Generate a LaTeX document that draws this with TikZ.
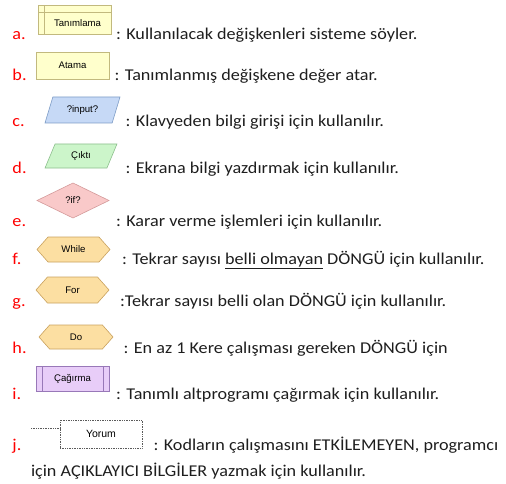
\documentclass[tikz,border=0pt]{standalone}
\usepackage{fontspec}
\setmainfont{Carlito}[FakeStretch=1.1]
\newfontfamily\etiketfont{Liberation Sans}
\usepackage{tikz}
\usetikzlibrary{shapes,shapes.geometric,shapes.symbols}

\definecolor{yazi}{HTML}{1E1E1E}
\definecolor{harfrengi}{HTML}{FF0000}
\definecolor{tanimdolgu}{HTML}{FFFFCC}
\definecolor{tanimcizgi}{HTML}{C2B97E}
\definecolor{girisdolgu}{HTML}{C6D9F6}
\definecolor{giriscizgi}{HTML}{7D9CC6}
\definecolor{cikisdolgu}{HTML}{CCF5CA}
\definecolor{cikiscizgi}{HTML}{8CBF8C}
\definecolor{kararolgu}{HTML}{F9C9C9}
\definecolor{kararcizgi}{HTML}{D49A9A}
\definecolor{donguolgu}{HTML}{FCDFA2}
\definecolor{dongucizgi}{HTML}{C9A15E}
\definecolor{cagirdolgu}{HTML}{E8CDF8}
\definecolor{cagircizgi}{HTML}{9878B8}
\definecolor{yorumcizgi}{HTML}{5A5A5A}

\newcommand{\govde}{\fontsize{16.5}{19}\selectfont}
\newcommand{\kucuk}{\etiketfont\fontsize{9.6}{11}\selectfont}

\begin{document}
\begin{tikzpicture}
	[
		x=1pt, y=-1pt,
		every node/.style = {inner sep=0pt, outer sep=0pt},
		harf/.style = {anchor=base west, text=harfrengi, font=\govde},
		satir/.style = {anchor=base west, text=yazi, font=\govde},
		kutu/.style = {draw, line width=0.6pt, font=\kucuk, text=black},
		paralel/.style = {kutu, trapezium, trapezium stretches=true},
		altigen/.style = {kutu, signal, signal to=west and east, signal pointer angle=97,
			draw=dongucizgi, fill=donguolgu},
		noktali/.style = {draw=yorumcizgi, line width=0.6pt, dash pattern=on 0.7pt off 1pt},
	]

  \useasboundingbox (0,0) rectangle (506,484);

  \node[kutu, draw=tanimcizgi, fill=tanimdolgu, minimum width=73, minimum height=29] (tanim) at (74.5,19.5) {};
  \draw[tanimcizgi, line width=0.6pt] ([xshift=6pt]tanim.north west) -- ([xshift=6pt]tanim.south west);
  \draw[tanimcizgi, line width=0.6pt] ([yshift=-7pt]tanim.north west) -- ([yshift=-7pt]tanim.north east);
  \node[font=\kucuk] (tanimyazi) at (77.5,23) {Tanımlama};

  \node[kutu, draw=tanimcizgi, fill=tanimdolgu, minimum width=73, minimum height=27] (atama) at (72.5,65.5) {Atama};

  \node[paralel, draw=giriscizgi, fill=girisdolgu, trapezium left angle=65, trapezium right angle=115,
  	minimum width=75, minimum height=26] (giris) at (82.5,110) {?input?};

  \node[paralel, draw=cikiscizgi, fill=cikisdolgu, trapezium left angle=67, trapezium right angle=113,
  	minimum width=72, minimum height=24] (cikis) at (81,156) {Çıktı};

  \node[kutu, diamond, draw=kararcizgi, fill=kararolgu, minimum width=72, minimum height=35] (karar) at (73,200.5) {?if?};

  \node[altigen, minimum width=73, minimum height=25] (while) at (73.5,249.5) {While};
  \node[altigen, minimum width=73, minimum height=26] (for) at (72.5,290) {For};
  \node[altigen, minimum width=74, minimum height=24] (do) at (76,337) {Do};

  \node[kutu, draw=cagircizgi, fill=cagirdolgu, minimum width=73, minimum height=25] (cagir) at (72.5,378.5) {Çağırma};
  \draw[cagircizgi, line width=0.6pt] ([xshift=6pt]cagir.north west) -- ([xshift=6pt]cagir.south west);
  \draw[cagircizgi, line width=0.6pt] ([xshift=-6pt]cagir.north east) -- ([xshift=-6pt]cagir.south east);

  \node[kutu, noktali, fill=white, minimum width=82, minimum height=28, font=\etiketfont\fontsize{10.5}{12}\selectfont] (yorum) at (101,434) {Yorum};
  \coordinate (yorumbas) at (31,428);
  \draw[noktali] (yorumbas) -- (yorum.west |- yorumbas);

  \node[harf] (ha) at (12.5,39.5) {a.};
  \node[harf] (hb) at (12.5,80.7) {b.};
  \node[harf] (hc) at (12.5,126.5) {c.};
  \node[harf] (hd) at (12.5,174) {d.};
  \node[harf] (he) at (12.5,226.7) {e.};
  \node[harf] (hf) at (12.5,264.3) {f.};
  \node[harf] (hg) at (12.5,306.7) {g.};
  \node[harf] (hh) at (12.5,353.3) {h.};
  \node[harf] (hi) at (12.5,399) {i.};
  \node[harf] (hj) at (12.5,450) {j.};

  \node[satir] (sa) at (116,39.5) {: Kullanılacak değişkenleri sisteme söyler.};
  \node[satir] (sb) at (114.5,80.7) {: Tanımlanmış değişkene değer atar.};
  \node[satir] (sc) at (125.5,126.5) {: Klavyeden bilgi girişi için kullanılır.};
  \node[satir] (sd) at (125.5,174) {: Ekrana bilgi yazdırmak için kullanılır.};
  \node[satir] (se) at (116,226.7) {: Karar verme işlemleri için kullanılır.};
  \node[satir] (sf) at (122,264.3) {: Tekrar sayısı \underline{belli olmayan} DÖNGÜ için kullanılır.};
  \node[satir] (sg) at (120,306.7) {:Tekrar sayısı belli olan DÖNGÜ için kullanılır.};
  \node[satir] (sh) at (123.5,353.3) {: En az 1 Kere çalışması gereken DÖNGÜ için};
  \node[satir] (si) at (116,399) {: Tanımlı altprogramı çağırmak için kullanılır.};
  \node[satir] (sj) at (153.5,450) {: Kodların çalışmasını ETKİLEMEYEN, programcı};
  \node[satir] (sj2) at (31,476.7) {için AÇIKLAYICI BİLGİLER yazmak için kullanılır.};

\end{tikzpicture}
\end{document}
